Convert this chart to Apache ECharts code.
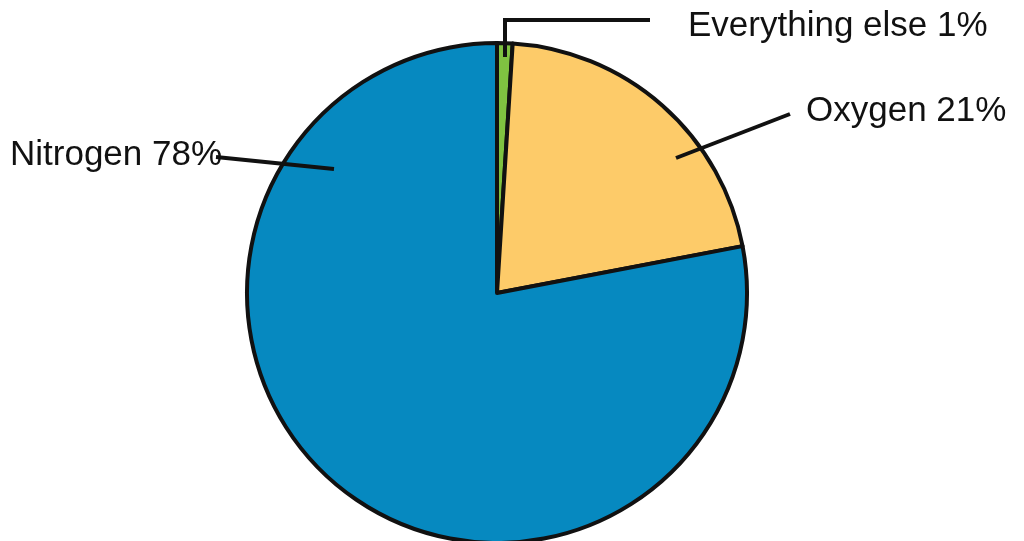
<!DOCTYPE html>
<html>
<head>
<meta charset="utf-8">
<script src="https://cdn.jsdelivr.net/npm/echarts@6/dist/echarts.min.js"></script>
<style>html,body{margin:0;padding:0;background:#fff;}#c{width:1024px;height:541px;}</style>
</head>
<body>
<div id="c"></div>
<script>
const categories = ['Everything else', 'Oxygen', 'Nitrogen'];
const values = [1, 21, 78];
const colors = ['#7fc241', '#fdcb69', '#0689c0'];

// label anchors and leader-line points (layout only)
const labelLayouts = [
  { x: 688, y: 26, line: [[505, 57], [505, 20], [650, 20]] },
  { x: 806, y: 111, line: [[676, 158], [733, 136], [790, 114]] },
  { x: 10, y: 155, line: [[334, 169], [275, 163], [216, 157]] }
];

const pieData = categories.map((n, i) => ({ name: n, value: values[i], itemStyle: { color: colors[i] } }));
const common = { type: 'pie', center: [497, 293], radius: 250, startAngle: 90, clockwise: true, emphasis: { disabled: true }, silent: true };

const chart = echarts.init(document.getElementById('c'));
chart.setOption({
  animation: false,
  series: [
    Object.assign({}, common, {
      z: 2,
      data: pieData,
      itemStyle: { borderColor: '#111', borderWidth: 4 },
      label: { show: false },
      labelLine: { show: false }
    }),
    Object.assign({}, common, {
      z: 5,
      data: pieData.map(d => ({ name: d.name, value: d.value, itemStyle: { color: 'rgba(0,0,0,0)' } })),
      itemStyle: { borderWidth: 0 },
      label: {
        show: true,
        position: 'outside',
        formatter: p => p.name + ' ' + p.value + '%',
        fontFamily: 'Liberation Sans, Arial, sans-serif',
        fontSize: 35,
        color: '#111'
      },
      labelLine: { show: true, lineStyle: { color: '#111', width: 4 } },
      labelLayout: function (params) {
        const l = labelLayouts[params.dataIndex];
        return { x: l.x, y: l.y, align: 'left', verticalAlign: 'middle', labelLinePoints: l.line };
      }
    })
  ]
});
</script>
</body>
</html>
